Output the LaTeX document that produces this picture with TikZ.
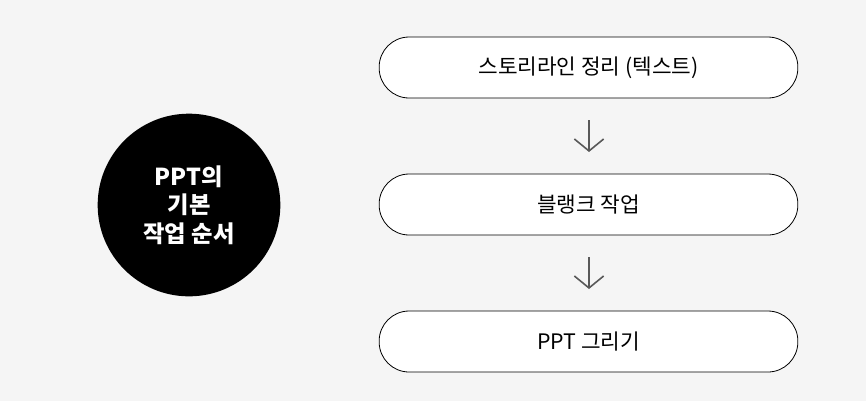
\documentclass[tikz,border=0pt]{standalone}
\usepackage{fontspec}
\setmainfont{Noto Sans CJK KR}
\usetikzlibrary{arrows.meta}
\begin{document}
\begin{tikzpicture}[x=0.75pt,y=-0.75pt,
  stepbox/.style={draw=black,line width=0.6pt,fill=white,rounded corners=22.5pt,minimum width=314pt,minimum height=45.75pt,inner sep=0pt,font=\fontsize{16pt}{19pt}\selectfont},
  flowarrow/.style={draw=black!65,line width=1.2pt,-{Straight Barb[length=9pt,width=22pt,line width=1.2pt]}}]
\useasboundingbox (0,0) rectangle (866,401);
\fill[black!4] (0,0) rectangle (866,401);
\node[circle,fill=black,minimum size=137pt,inner sep=0pt,text=white,align=center,font=\fontsize{17.5pt}{21.4pt}\selectfont\bfseries] (c) at (189,205) {PPT의\\기본\\작업 순서};
\node[stepbox] (b1) at (588.5,67.5) {스토리라인 정리 (텍스트)};
\node[stepbox] (b2) at (588.5,204.5) {블랭크 작업};
\node[stepbox] (b3) at (588.5,341.5) {PPT 그리기};
\coordinate (a1s) at (589,120); \coordinate (a1e) at (589,152);
\coordinate (a2s) at (589,257); \coordinate (a2e) at (589,289);
\draw[flowarrow] (a1s) -- (a1e);
\draw[flowarrow] (a2s) -- (a2e);
\end{tikzpicture}
\end{document}
